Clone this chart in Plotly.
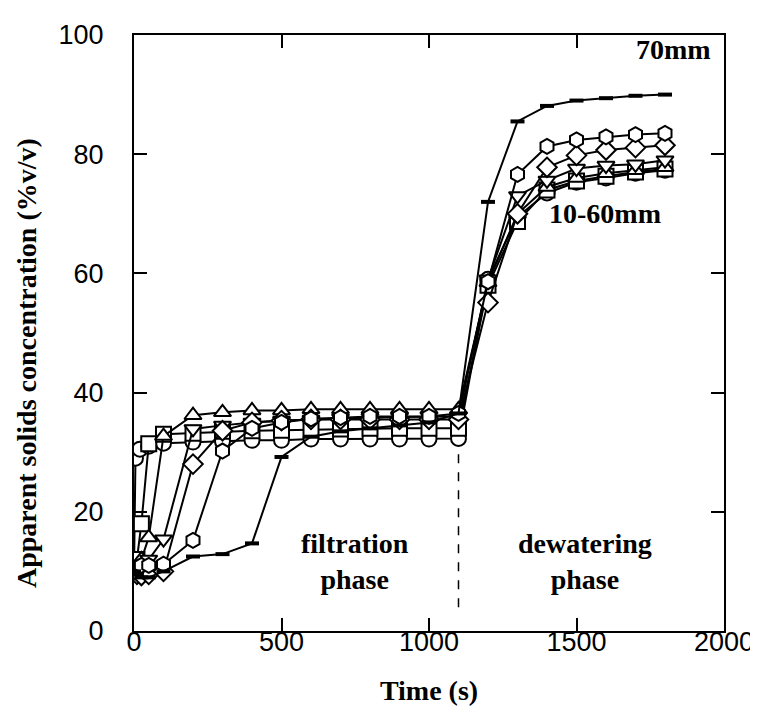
import plotly.graph_objects as go

# time points (s)
t_10 = [0, 5, 20, 50, 100, 200, 300, 400, 500, 600, 700, 800, 900, 1000, 1100,
        1200, 1300, 1400, 1500, 1600, 1700, 1800]
t_std = [0, 10, 25, 50, 100, 200, 300, 400, 500, 600, 700, 800, 900, 1000, 1100,
         1200, 1300, 1400, 1500, 1600, 1700, 1800]

# apparent solids concentration (%v/v)
c_10mm = [10, 29, 30.5, 31, 31.5, 31.7, 31.8, 32, 32, 32.2, 32.2, 32.2, 32.2, 32.2, 32.3,
          59, 69.5, 73.5, 75.3, 76, 76.8, 77.3]
c_20mm = [10.5, 12, 18, 31.4, 33, 33.2, 33.5, 33.6, 33.7, 33.8, 33.9, 34, 34, 34, 34,
          58, 68.7, 74, 75.5, 76.3, 77, 77.5]
c_30mm = [10, 11, 12, 15.7, 32.7, 36.2, 36.7, 37, 37, 37.2, 37.2, 37.2, 37.2, 37.2, 37.2,
          58.5, 70, 74.5, 76, 76.8, 77.3, 77.8]
c_40mm = [10, 10.5, 11, 12, 15.4, 33.9, 34.5, 35, 35.3, 35.5, 35.7, 35.8, 35.9, 36, 36,
          59, 73, 75.6, 77.6, 78.1, 78.3, 79]
c_50mm = [10, 9.5, 9.3, 9.5, 10, 28, 33.6, 35, 35.3, 35.5, 35.5, 35.5, 35.5, 35.5, 35.5,
          55.1, 70, 77.8, 79.8, 80.7, 81.1, 81.5]
c_60mm = [10, 10.5, 11, 11, 11.2, 15.2, 30.2, 34, 35, 35.6, 35.8, 36, 36, 36, 36.5,
          58.6, 76.6, 81.3, 82.4, 82.9, 83.3, 83.5]
c_70mm = [10, 9.5, 9, 9, 10, 12.5, 12.9, 14.7, 29.2, 32.6, 33.5, 34, 34.5, 35, 36.5,
          72, 85.5, 88.1, 89, 89.4, 89.8, 90]

series = [
    (t_10, c_10mm, 'circle', '10mm'),
    (t_std, c_20mm, 'square', '20mm'),
    (t_std, c_30mm, 'triangle-up', '30mm'),
    (t_std, c_40mm, 'triangle-down', '40mm'),
    (t_std, c_50mm, 'diamond', '50mm'),
    (t_std, c_60mm, 'hexagon', '60mm'),
]

fig = go.Figure()

for t, c, sym, name in series:
    fig.add_trace(go.Scatter(
        x=t, y=c, name=name, mode='lines+markers',
        line=dict(color='black', width=2),
        marker=dict(symbol=sym, size=15, color='white',
                    line=dict(color='black', width=2))
    ))

fig.add_trace(go.Scatter(
    x=t_std, y=c_70mm, name='70mm', mode='lines+markers',
    line=dict(color='black', width=2),
    marker=dict(symbol='line-ew', size=10, color='black',
                line=dict(color='black', width=4))
))

# phase separator
fig.add_shape(type='line', x0=1100, x1=1100, y0=4, y1=30,
              line=dict(color='black', width=1.5, dash='dash'))

serif_bold = dict(family='Liberation Serif', size=28, color='black')
fig.add_annotation(x=1830, y=97.5, text='<b>70mm</b>', showarrow=False, font=serif_bold)
fig.add_annotation(x=1598, y=70, text='<b>10-60mm</b>', showarrow=False, font=serif_bold)
fig.add_annotation(x=748, y=11.6, text='<b>filtration<br>phase</b>', showarrow=False,
                   font=serif_bold)
fig.add_annotation(x=1530, y=11.6, text='<b>dewatering<br>phase</b>', showarrow=False,
                   font=serif_bold)

# y axis title placed as a rotated annotation
fig.add_annotation(xref='paper', yref='paper', x=-0.181, y=0.45,
                   xanchor='center', yanchor='middle',
                   text='<b>Apparent solids concentration (%v/v)</b>', textangle=-90,
                   showarrow=False,
                   font=dict(family='Liberation Serif', size=28, color='black'))

axis_common = dict(
    showline=True, mirror='ticks', linecolor='black', linewidth=2,
    ticks='inside', ticklen=13, tickwidth=1.5, tickcolor='black',
    showgrid=False, zeroline=False,
    tickfont=dict(family='Liberation Sans', size=27, color='black'),
)

fig.update_layout(
    width=758, height=712,
    margin=dict(l=126, r=35, t=24, b=89),
    plot_bgcolor='white', paper_bgcolor='white',
    showlegend=False,
    xaxis=dict(range=[0, 2000], tickvals=[0, 500, 1000, 1500, 2000],
               title=dict(text='<b>Time (s)</b>', standoff=24,
                          font=dict(family='Liberation Serif', size=28, color='black')),
               ticklabelstandoff=-14, **axis_common),
    yaxis=dict(range=[0, 100], tickvals=[0, 20, 40, 60, 80, 100],
               ticklabelstandoff=23, **axis_common),
)

fig.write_html("out.html")
